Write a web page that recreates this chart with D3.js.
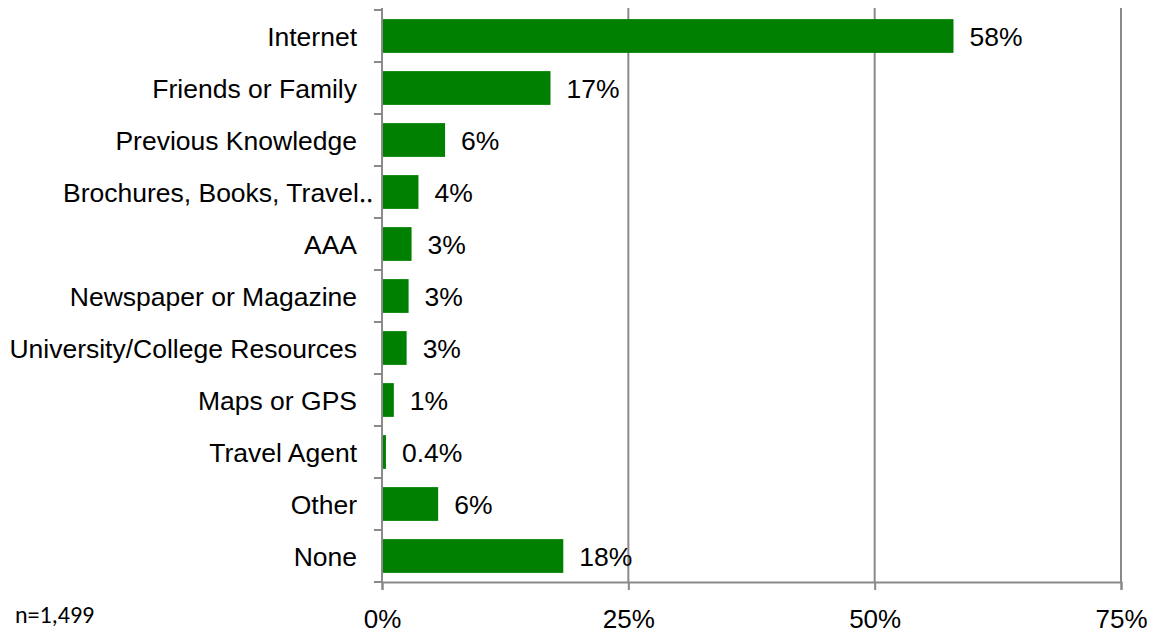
<!DOCTYPE html>
<html>
<head>
<meta charset="utf-8">
<script src="https://cdn.jsdelivr.net/npm/d3@7"></script>
<style>
  html, body { margin: 0; padding: 0; background: #fff; }
  svg { display: block; }
  text { font-family: "Liberation Sans", Arial, sans-serif; fill: #000; }
</style>
</head>
<body>
<svg id="chart" width="1152" height="633"></svg>
<script>
// Information sources used when planning a trip (share of respondents, %)
const categories = [
  "Internet", "Friends or Family", "Previous Knowledge", "Brochures, Books, Travel\u2025",
  "AAA", "Newspaper or Magazine", "University/College Resources", "Maps or GPS",
  "Travel Agent", "Other", "None"
];
const shares = [58.0, 17.1, 6.4, 3.7, 3.0, 2.7, 2.5, 1.2, 0.4, 5.7, 18.4];
const xTicks = [0, 25, 50, 75];
const sampleNote = "n=1,499";

const svg = d3.select("#chart");
const plotLeft = 382, plotRight = 1121, plotTop = 10, plotBottom = 582;

const x = d3.scaleLinear().domain([0, 75]).range([plotLeft, plotRight]);
const y = d3.scaleBand().domain(categories).range([plotTop, plotBottom]).paddingInner(0.35).paddingOuter(0.175);

const grey = "#8a8a8a";

// vertical gridlines
svg.append("g").selectAll("line").data(xTicks.filter(d => d > 0)).join("line")
  .attr("x1", d => x(d)).attr("x2", d => x(d))
  .attr("y1", plotTop - 2).attr("y2", plotBottom)
  .attr("stroke", grey).attr("stroke-width", 2);

// bars
svg.append("g").selectAll("rect").data(categories).join("rect")
  .attr("x", x(0))
  .attr("y", d => y(d))
  .attr("width", (d, i) => x(shares[i]) - x(0))
  .attr("height", y.bandwidth())
  .attr("fill", "#008000");

// bottom axis
const xAxis = d3.axisBottom(x).tickValues(xTicks).tickFormat(d => d + "%").tickSize(8).tickPadding(20);
const gx = svg.append("g").attr("transform", `translate(0,${plotBottom})`).call(xAxis);
gx.select(".domain").attr("stroke", grey).attr("stroke-width", 2);
gx.selectAll(".tick line").attr("stroke", grey).attr("stroke-width", 2);
gx.selectAll(".tick text").style("font-size", "26px").attr("fill", "#000")
  .style("font-family", "'Liberation Sans', Arial, sans-serif");

// left axis with ticks on the band boundaries
const gy = svg.append("g");
gy.append("line").attr("x1", plotLeft).attr("x2", plotLeft).attr("y1", plotTop - 2).attr("y2", plotBottom)
  .attr("stroke", grey).attr("stroke-width", 2);
const boundaries = categories.map(d => y(d) - y.step() * y.paddingInner() / 2).concat([plotBottom]);
gy.selectAll("line.tk").data(boundaries).join("line").attr("class", "tk")
  .attr("x1", plotLeft - 8).attr("x2", plotLeft).attr("y1", d => d).attr("y2", d => d)
  .attr("stroke", grey).attr("stroke-width", 2);

// category labels (a truncated label runs its leader dots up to the axis)
svg.append("g").selectAll("text").data(categories).join("text")
  .attr("x", d => d.endsWith("\u2025") ? plotLeft - 9 : plotLeft - 25)
  .attr("y", d => y(d) + y.bandwidth() / 2 + 1)
  .attr("dy", "0.35em")
  .attr("text-anchor", "end")
  .style("font-size", "26.5px")
  .text(d => d);

// value labels
const fmt = v => (v < 1 ? d3.format(".1f")(v) : d3.format(".0f")(v)) + "%";
svg.append("g").selectAll("text").data(categories).join("text")
  .attr("x", (d, i) => x(shares[i]) + 16)
  .attr("y", d => y(d) + y.bandwidth() / 2 + 1)
  .attr("dy", "0.35em")
  .style("font-size", "26.5px")
  .text((d, i) => fmt(shares[i]));

// sample size note
svg.append("text").attr("x", 15).attr("y", 623)
  .style("font-family", "Carlito, Lato, 'Open Sans', sans-serif")
  .style("font-size", "24px")
  .text(sampleNote);
</script>
</body>
</html>
